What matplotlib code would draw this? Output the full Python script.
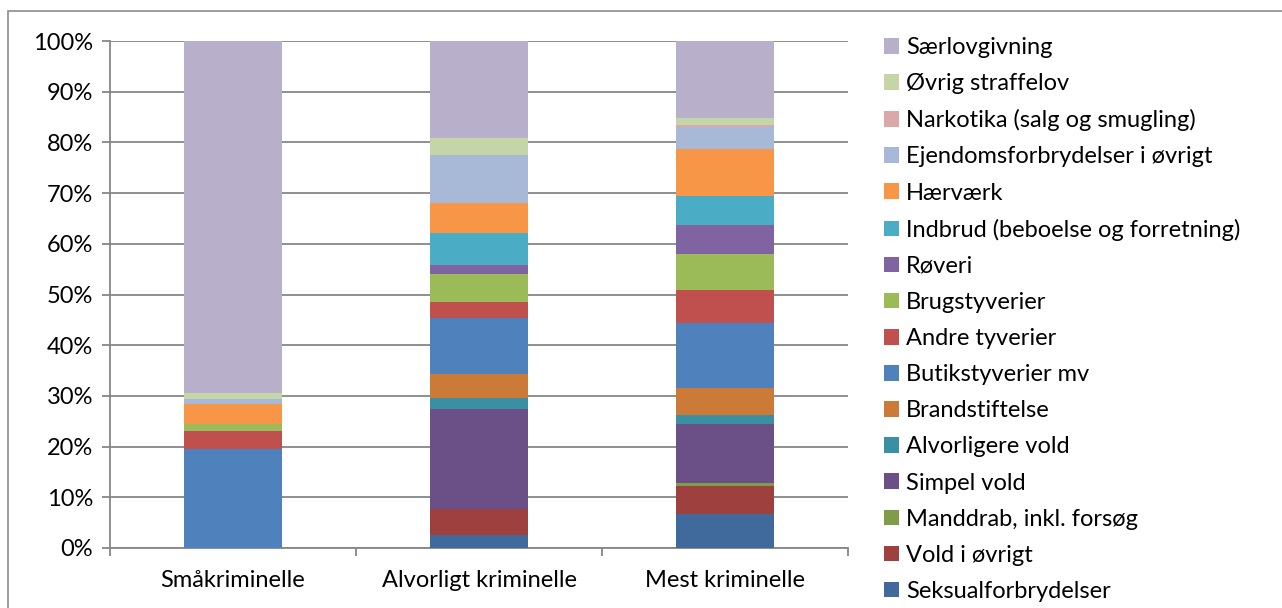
import matplotlib
matplotlib.use('Agg')
import matplotlib.pyplot as plt
import numpy as np
from matplotlib.patches import Rectangle

plt.rcParams['font.family'] = ['Lato', 'DejaVu Sans']

groups = ['Småkriminelle', 'Alvorligt kriminelle', 'Mest kriminelle']

# bottom to top, percent shares
series = ['Seksualforbrydelser', 'Vold i øvrigt', 'Manddrab, inkl. forsøg', 'Simpel vold',
          'Alvorligere vold', 'Brandstiftelse', 'Butikstyverier mv', 'Andre tyverier',
          'Brugstyverier', 'Røveri', 'Indbrud (beboelse og forretning)', 'Hærværk',
          'Ejendomsforbrydelser i øvrigt', 'Narkotika (salg og smugling)', 'Øvrig straffelov',
          'Særlovgivning']
smaa = [0.0, 0.0, 0.0, 0.0, 0.0, 0.0, 19.5, 3.6, 1.4, 0.0, 0.0, 4.0, 0.8, 0.0, 1.2, 69.5]
alvorligt = [2.6, 5.0, 0.0, 19.9, 2.1, 4.7, 11.0, 3.2, 5.6, 1.8, 6.3, 5.8, 9.5, 0.0, 3.4, 19.1]
mest = [6.7, 5.6, 0.5, 11.7, 1.8, 5.2, 12.8, 6.5, 7.1, 5.9, 5.7, 9.1, 4.5, 0.3, 1.4, 15.2]

colors = ['#416A9C', '#9E413E', '#7F9C4A', '#6A5087', '#3A8FA3', '#CC7A37', '#4F81BD',
          '#C0504D', '#9BBB59', '#8064A2', '#4BACC6', '#F79646', '#A8B8D7', '#DAA8A7',
          '#C4D5A8', '#B8AFCB']

data = np.array([smaa, alvorligt, mest]).T
data = data / data.sum(axis=0) * 100

fs = 17

fig = plt.figure(figsize=(12.82, 6.08), dpi=100)
ax = fig.add_axes([110 / 1282, 60 / 608, 738 / 1282, 507 / 608])

x = np.arange(len(groups))
bottom = np.zeros(len(groups))
handles = []
for name, vals, c in zip(series, data, colors):
    b = ax.bar(x, vals, 0.4, bottom=bottom, color=c, label=name, zorder=3)
    handles.append(b)
    bottom += vals

ax.set_xlim(-0.5, 2.5)
ax.set_ylim(0, 100)
ax.set_yticks(np.arange(0, 101, 10))
ax.set_yticklabels(['%d%%' % v for v in range(0, 101, 10)])
ax.yaxis.grid(True, color='#868686', lw=1.3, zorder=0)
ax.set_xticks(x)
ax.set_xticklabels(groups)
ax.set_xticks([-0.5, 0.5, 1.5, 2.5], minor=True)
ax.tick_params(axis='x', which='major', length=0, pad=16, labelsize=fs)
ax.tick_params(axis='x', which='minor', length=6, color='#868686', width=1.3)
ax.tick_params(axis='y', length=6, color='#868686', width=1.3, labelsize=fs, pad=6)
for s in ['top', 'right']:
    ax.spines[s].set_visible(False)
for s in ['left', 'bottom']:
    ax.spines[s].set_color('#868686')
    ax.spines[s].set_linewidth(1.3)

ax.legend(handles[::-1], series[::-1], loc='upper left', bbox_to_anchor=(884 / 1282, 571 / 608),
          bbox_transform=fig.transFigure, frameon=False, fontsize=fs,
          handlelength=0.64, handleheight=0.64, handletextpad=0.3, labelspacing=0.64,
          borderaxespad=0, borderpad=0)

fig.patches.append(Rectangle((8 / 1282, -0.05), 1.1, (597 / 608) + 0.05, transform=fig.transFigure,
                             fill=False, edgecolor='#8c8c8c', lw=1.2))

fig.savefig('out.png', dpi=100)
